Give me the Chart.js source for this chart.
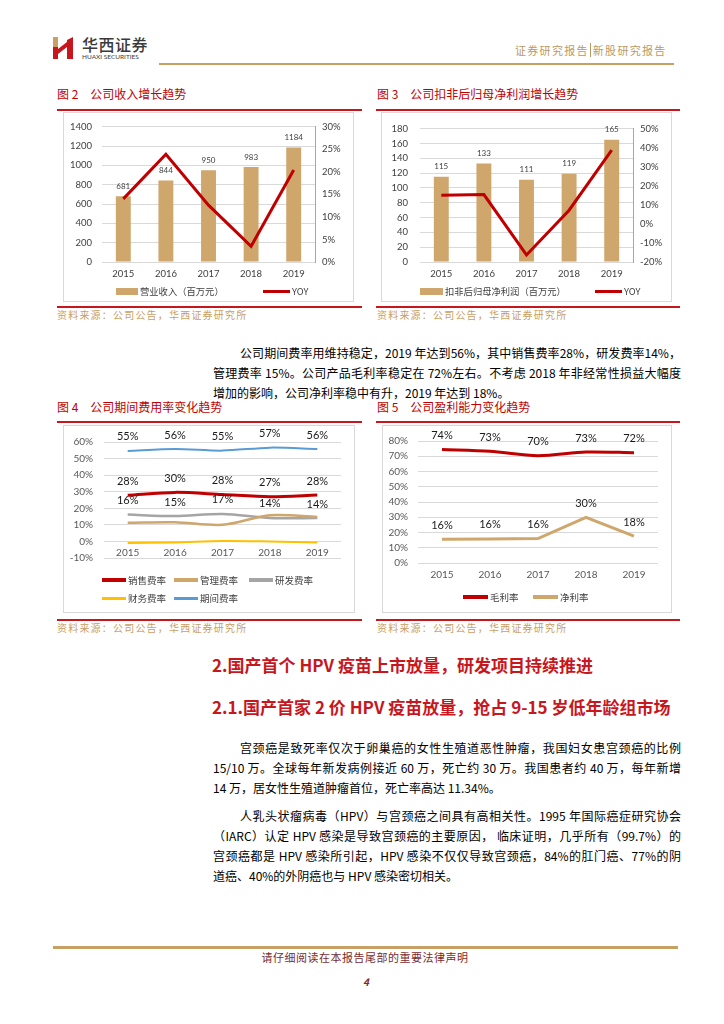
<!DOCTYPE html>
<html lang="zh-CN">
<head>
<meta charset="utf-8">
<title>华西证券 新股研究报告 第4页</title>
<script src="https://cdn.jsdelivr.net/npm/chart.js@4.4.1/dist/chart.umd.min.js"></script>
<style>
  html, body { margin: 0; padding: 0; background: #fff; }
  body { width: 724px; height: 1024px; position: relative; overflow: hidden;
         font-family: "Noto Sans CJK SC", "Noto Sans", sans-serif; color: #000; }
  .hline { position: absolute; height: 2px; background: #C8161D; }
  .goldline { position: absolute; height: 2px; background: #C9A063; }
  .fig-title { position: absolute; font-size: 12px; color: #C00000; line-height: 14px; white-space: nowrap; }
  .fig-title span { margin-right: 12px; }
  .source { position: absolute; font-size: 10px; color: #C9A063; letter-spacing: 1.2px; line-height: 12px; white-space: nowrap; }
  .box { position: absolute; border: 1px solid #D9D9D9; box-sizing: border-box; }
  canvas { position: absolute; }
  .lg { position: absolute; font-size: 9.3px; color: #404040; line-height: 12px; white-space: nowrap; }
  .sw { position: absolute; }
  .body-text { position: absolute; left: 213px; width: 468px; font-size: 12px; line-height: 20px; }
  .body-text div { text-align: justify; text-align-last: justify; height: 20px; white-space: nowrap; overflow: visible; }
  .body-text div.first { padding-left: 27px; }
  .body-text div.last { text-align-last: left; }
  .heading { position: absolute; left: 212px; font-size: 17px; font-weight: bold; color: #C8161D; line-height: 22px; white-space: nowrap; }
</style>
</head>
<body>

<!-- header -->
<svg class="sw" style="left:52px;top:36px" width="22" height="24" viewBox="0 0 22 24">
  <rect x="1" y="1" width="5" height="10" fill="#C9A063"/>
  <rect x="1" y="11" width="5" height="12" fill="#C8161D"/>
  <polygon points="6,13 15,6 15,11 6,18" fill="#C8161D"/>
  <polygon points="15,4 21,1 21,23 15,23" fill="#C8161D"/>
</svg>
<div style="position:absolute;left:82px;top:34px;font-size:16px;font-weight:500;color:#3a3a3a;letter-spacing:0.5px;line-height:20px">华西证券</div>
<div style="position:absolute;left:82px;top:53px;font-size:6.5px;color:#3a3a3a;line-height:8px;font-family:Lato,sans-serif">HUAXI SECURITIES</div>
<div style="position:absolute;left:515px;top:42px;font-size:11px;color:#B89A64;letter-spacing:1.3px;line-height:16px;white-space:nowrap">证券研究报告<span style="display:inline-block;width:1px;height:14px;background:#B89A64;vertical-align:-2px;margin:0 2px 0 1px"></span>新股研究报告</div>
<div class="goldline" style="left:159px;top:63px;width:515px"></div>

<!-- figure titles, row 1 -->
<div class="fig-title" style="left:57px;top:87px"><span>图 2</span>公司收入增长趋势</div>
<div class="fig-title" style="left:377px;top:87px"><span>图 3</span>公司扣非后归母净利润增长趋势</div>
<div class="hline" style="left:57px;top:109px;width:305px"></div>
<div class="hline" style="left:376px;top:109px;width:304px"></div>
<div class="box" style="left:63px;top:112px;width:291px;height:190px"></div>
<div class="box" style="left:381px;top:112px;width:291px;height:190px"></div>
<canvas id="revChart" width="291" height="191" style="left:63px;top:111px"></canvas>
<canvas id="profitChart" width="291" height="191" style="left:381px;top:111px"></canvas>
<div class="hline" style="left:57px;top:306px;width:305px"></div>
<div class="hline" style="left:376px;top:306px;width:304px"></div>
<div class="source" style="left:57px;top:309px">资料来源：公司公告，华西证券研究所</div>
<div class="source" style="left:377px;top:309px">资料来源：公司公告，华西证券研究所</div>

<div class="body-text" style="top:343px">
  <div class="first">公司期间费率用维持稳定，2019 年达到56%，其中销售费率28%，研发费率14%，</div>
  <div>管理费率 15%。公司产品毛利率稳定在 72%左右。不考虑 2018 年非经常性损益大幅度</div>
  <div class="last">增加的影响，公司净利率稳中有升，2019 年达到 18%。</div>
</div>

<!-- figure titles, row 2 -->
<div class="fig-title" style="left:57px;top:400px"><span>图 4</span>公司期间费用率变化趋势</div>
<div class="fig-title" style="left:377px;top:400px"><span>图 5</span>公司盈利能力变化趋势</div>
<div class="hline" style="left:57px;top:421px;width:305px"></div>
<div class="hline" style="left:376px;top:421px;width:304px"></div>
<div class="box" style="left:63px;top:425px;width:292px;height:188px"></div>
<div class="box" style="left:382px;top:425px;width:290px;height:188px"></div>
<canvas id="costChart" width="292" height="188" style="left:63px;top:425px"></canvas>
<canvas id="marginChart" width="290" height="188" style="left:382px;top:425px"></canvas>
<div class="hline" style="left:57px;top:619px;width:305px"></div>
<div class="hline" style="left:376px;top:619px;width:304px"></div>
<div class="source" style="left:57px;top:622px">资料来源：公司公告，华西证券研究所</div>
<div class="source" style="left:377px;top:622px">资料来源：公司公告，华西证券研究所</div>

<div class="heading" style="top:654px">2.国产首个 HPV 疫苗上市放量，研发项目持续推进</div>
<div class="heading" style="top:696px">2.1.国产首家 2 价 HPV 疫苗放量，抢占 9-15 岁低年龄组市场</div>

<div class="body-text" style="top:738px">
  <div class="first">宫颈癌是致死率仅次于卵巢癌的女性生殖道恶性肿瘤，我国妇女患宫颈癌的比例</div>
  <div>15/10 万。全球每年新发病例接近 60 万，死亡约 30 万。我国患者约 40 万，每年新增</div>
  <div class="last">14 万，居女性生殖道肿瘤首位，死亡率高达 11.34%。</div>
</div>
<div class="body-text" style="top:806px">
  <div class="first">人乳头状瘤病毒（HPV）与宫颈癌之间具有高相关性。1995 年国际癌症研究协会</div>
  <div>（IARC）认定 HPV 感染是导致宫颈癌的主要原因， 临床证明，几乎所有（99.7%）的</div>
  <div>宫颈癌都是 HPV 感染所引起，HPV 感染不仅仅导致宫颈癌，84%的肛门癌、77%的阴</div>
  <div class="last">道癌、40%的外阴癌也与 HPV 感染密切相关。</div>
</div>

<!-- footer -->
<div class="goldline" style="left:53px;top:946px;width:625px;height:3px"></div>
<div style="position:absolute;left:0;width:730px;top:950px;text-align:center;font-size:11px;color:#7B2C2C;letter-spacing:0.5px;line-height:14px">请仔细阅读在本报告尾部的重要法律声明</div>
<div style="position:absolute;left:0;width:732px;top:976px;text-align:center;font-size:10px;font-weight:bold;font-style:italic;color:#7B2C2C;line-height:12px">4</div>

<script>
// ---- data ----
const years = ['2015', '2016', '2017', '2018', '2019'];

// 图2 营业收入（百万元）与同比
const revenue = [681, 844, 950, 983, 1184];
const revenueYoy = [14.0, 23.9, 12.6, 3.5, 20.4];
const revenueAxis = [0, 1400, 200];
const revenueYoyAxis = [0, 30, 5];

// 图3 扣非后归母净利润（百万元）与同比
const profit = [115, 133, 111, 119, 165];
const profitYoy = [15.0, 15.4, -16.3, 7.2, 38.7];
const profitAxis = [0, 180, 20];
const profitYoyAxis = [-20, 50, 10];

// 图4 期间费用率（%）
const sellingRate = [27.9, 29.6, 28.3, 27.0, 28.0];
const adminRate = [11.3, 11.6, 10.0, 15.8, 14.8];
const rdRate = [16.2, 15.3, 16.6, 14.2, 14.1];
const financeRate = [-1.0, -0.6, 0.3, 0.0, -0.6];
const periodRate = [54.6, 55.8, 54.8, 56.6, 55.8];
const costAxis = [-10, 60, 10];

// 图5 盈利能力（%）
const grossMargin = [74.4, 73.2, 70.4, 72.8, 72.3];
const netMargin = [15.6, 15.8, 16.0, 29.9, 17.6];
const marginAxis = [0, 80, 10];

const RED = '#C00000';
const TAN = '#CFA66B';
const GRAY = '#A5A5A5';
const YELLOW = '#FFC000';
const BLUE = '#5B9BD5';
const GRID = '#D9D9D9';
const AXIS_FONT = 'Lato, "Noto Sans CJK SC", sans-serif';

// draws value labels above bars / points for datasets that carry labelFormat
const valueLabels = {
  id: 'valueLabels',
  afterDatasetsDraw(chart) {
    const ctx = chart.ctx;
    chart.data.datasets.forEach((ds, i) => {
      if (!ds.labelFormat) return;
      const meta = chart.getDatasetMeta(i);
      ctx.save();
      ctx.font = ds.labelFont;
      ctx.fillStyle = ds.labelColor;
      ctx.textAlign = 'center';
      ctx.textBaseline = 'middle';
      meta.data.forEach((el, j) => {
        ctx.fillText(ds.labelFormat(ds.data[j]), el.x, el.y - ds.labelOffset);
      });
      ctx.restore();
    });
  }
};

const plain = v => String(v);
const pct = v => v + '%';
const roundPct = v => Math.round(v) + '%';

function barLineChart(id, bars, barName, yoy, axis, yoyAxis, leftPad) {
  const tickFont = { family: AXIS_FONT, size: 9.5 };
  return new Chart(document.getElementById(id), {
    type: 'bar',
    data: {
      labels: years,
      datasets: [
        {
          type: 'line', label: 'YOY', data: yoy, yAxisID: 'y1',
          borderColor: RED, borderWidth: 3, pointRadius: 0, tension: 0, order: 0
        },
        {
          label: barName, data: bars, yAxisID: 'y',
          backgroundColor: TAN, categoryPercentage: 1, barPercentage: 0.35, order: 1,
          labelFormat: plain, labelFont: '8px ' + AXIS_FONT, labelColor: '#404040', labelOffset: 10
        }
      ]
    },
    options: {
      responsive: false,
      animation: false,
      layout: { padding: { top: 14, bottom: 22, left: 0, right: 0 } },
      plugins: { legend: { display: false }, tooltip: { enabled: false } },
      scales: {
        x: {
          grid: { display: false, drawTicks: false }, border: { display: false },
          ticks: { padding: 6, font: tickFont, color: '#404040' },
          afterFit: s => { s.height = 18; }
        },
        y: {
          position: 'left', min: axis[0], max: axis[1],
          ticks: { stepSize: axis[2], padding: leftPad, font: tickFont, color: '#404040', callback: plain },
          grid: { color: GRID, drawTicks: false }, border: { display: false },
          afterFit: s => { s.width = 39; }
        },
        y1: {
          position: 'right', min: yoyAxis[0], max: yoyAxis[1],
          ticks: { stepSize: yoyAxis[2], padding: 7, font: tickFont, color: '#404040', callback: pct },
          grid: { display: false, drawTicks: false },
          border: { display: true, color: '#A6A6A6' },
          afterFit: s => { s.width = 39; }
        }
      }
    },
    plugins: [valueLabels]
  });
}

barLineChart('revChart', revenue, '营业收入（百万元）', revenueYoy, revenueAxis, revenueYoyAxis, 10);
barLineChart('profitChart', profit, '扣非后归母净利润（百万元）', profitYoy, profitAxis, profitYoyAxis, 12);

function rateLine(name, data, color, width, tension, labelled) {
  const ds = {
    label: name, data: data, borderColor: color, borderWidth: width,
    pointRadius: 0, tension: tension
  };
  if (labelled) {
    ds.labelFormat = roundPct;
    ds.labelFont = '11px ' + AXIS_FONT;
    ds.labelColor = '#1a1a1a';
    ds.labelOffset = 14;
  }
  return ds;
}

function lineOptions(axis, leftWidth, leftPad, padding, xAtZero) {
  const tickFont = { family: AXIS_FONT, size: 10 };
  const x = {
    offset: true,
    grid: { display: false, drawTicks: false }, border: { display: false },
    ticks: { padding: xAtZero ? 5 : 6, font: tickFont, color: '#595959' }
  };
  if (xAtZero) x.position = { y: 0 };
  else x.afterFit = s => { s.height = 20; };
  return {
    responsive: false,
    animation: false,
    layout: { padding: padding },
    plugins: { legend: { display: false }, tooltip: { enabled: false } },
    scales: {
      x: x,
      y: {
        min: axis[0], max: axis[1],
        ticks: { stepSize: axis[2], padding: leftPad, font: tickFont, color: '#595959', callback: pct },
        grid: { color: GRID, drawTicks: false }, border: { display: false },
        afterFit: s => { s.width = leftWidth; }
      }
    }
  };
}

new Chart(document.getElementById('costChart'), {
  type: 'line',
  data: {
    labels: years,
    datasets: [
      rateLine('销售费率', sellingRate, RED, 3, 0.3, true),
      rateLine('管理费率', adminRate, TAN, 2.5, 0.3, false),
      rateLine('研发费率', rdRate, GRAY, 2.5, 0.3, true),
      rateLine('财务费率', financeRate, YELLOW, 2, 0.3, false),
      rateLine('期间费率', periodRate, BLUE, 2, 0.3, true)
    ]
  },
  options: lineOptions(costAxis, 41, 11, { top: 12, bottom: 55, left: 0, right: 14 }, true),
  plugins: [valueLabels]
});

new Chart(document.getElementById('marginChart'), {
  type: 'line',
  data: {
    labels: years,
    datasets: [
      rateLine('毛利率', grossMargin, RED, 3, 0.3, true),
      rateLine('净利率', netMargin, TAN, 3, 0, true)
    ]
  },
  options: lineOptions(marginAxis, 36, 10, { top: 12, bottom: 30, left: 0, right: 14 }, false),
  plugins: [valueLabels]
});

// legends (HTML, placed under each plot like the report does)
function legend(items) {
  items.forEach(it => {
    const sw = document.createElement('div');
    sw.className = 'sw';
    const h = it.kind === 'box' ? 7 : it.thick;
    sw.style.cssText = `left:${it.x}px;top:${it.y - h / 2}px;width:${it.w}px;height:${h}px;background:${it.color}`;
    document.body.appendChild(sw);
    const tx = document.createElement('div');
    tx.className = 'lg';
    tx.textContent = it.text;
    tx.style.left = (it.x + it.w + 2) + 'px';
    tx.style.top = (it.y - 6.5) + 'px';
    if (it.size) tx.style.fontSize = it.size + 'px';
    document.body.appendChild(tx);
  });
}

legend([
  { kind: 'box', x: 116, y: 291, w: 22, color: TAN, text: '营业收入（百万元）' },
  { kind: 'line', x: 263, y: 291, w: 27, thick: 3, color: RED, text: 'YOY' },
  { kind: 'box', x: 420, y: 291, w: 23, color: TAN, text: '扣非后归母净利润（百万元）' },
  { kind: 'line', x: 595, y: 291, w: 27, thick: 3, color: RED, text: 'YOY' },
  { kind: 'line', x: 102, y: 580, w: 24, thick: 4, color: RED, text: '销售费率', size: 9.5 },
  { kind: 'line', x: 174, y: 580, w: 24, thick: 4, color: TAN, text: '管理费率', size: 9.5 },
  { kind: 'line', x: 249, y: 580, w: 24, thick: 4, color: GRAY, text: '研发费率', size: 9.5 },
  { kind: 'line', x: 102, y: 598, w: 24, thick: 3, color: YELLOW, text: '财务费率', size: 9.5 },
  { kind: 'line', x: 174, y: 598, w: 24, thick: 3, color: BLUE, text: '期间费率', size: 9.5 },
  { kind: 'line', x: 463, y: 597, w: 25, thick: 4, color: RED, text: '毛利率', size: 9.5 },
  { kind: 'line', x: 533, y: 597, w: 25, thick: 4, color: TAN, text: '净利率', size: 9.5 }
]);
</script>
</body>
</html>
